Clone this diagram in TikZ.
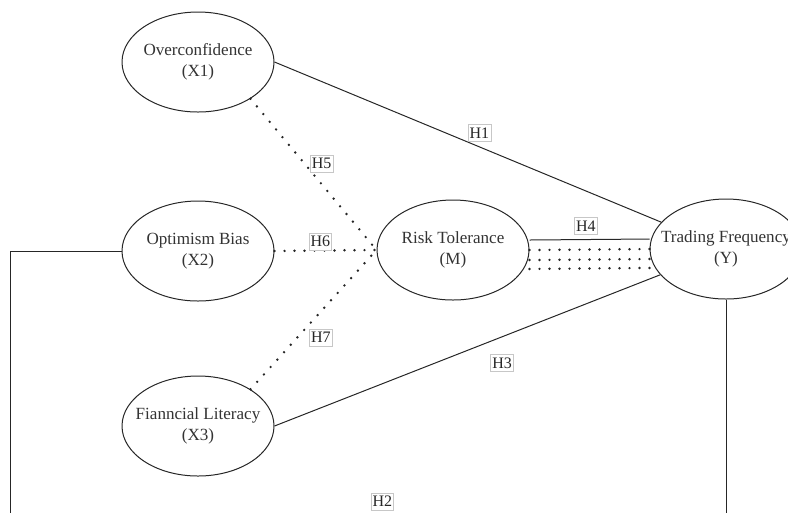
\documentclass[tikz,border=0pt]{standalone}
\usepackage{fontspec}
\setmainfont{Liberation Serif}
\usetikzlibrary{shapes.geometric}

\begin{document}
\begin{tikzpicture}[x=0.75pt, y=-0.75pt,
        var/.style = {ellipse, draw=black!85, line width=0.75pt,
                      minimum width=114pt, minimum height=75pt,
                      inner xsep=-10pt, inner ysep=0pt, align=center,
                      text=black!80, font=\fontsize{12.8}{15.5}\selectfont},
        hyp/.style = {solid, draw=black!22, fill=white, line width=0.5pt,
                      inner xsep=1.2pt, inner ysep=2.4pt, text=black!85,
                      font=\fontsize{12}{12}\selectfont},
       link/.style = {draw=black!85, line width=0.75pt},
    dotlink/.style = {draw=black!85, line width=2pt, line cap=round,
                      dash pattern=on 0pt off 7.5pt},
every edge/.style = {link}
                        ]
    % page size, the right ellipse runs off the edge
    \useasboundingbox (0,0) rectangle (788,512);
    \clip (0,0) rectangle (788,512);

    % the variables
    \node (X1) at (198, 62)  [var] {Overconfidence\\(X1)};
    \node (X2) at (198, 251) [var] {Optimism Bias\\(X2)};
    \node (X3) at (198, 426) [var] {Fianncial Literacy\\(X3)};
    \node (M)  at (453, 250) [var] {Risk Tolerance\\(M)};
    \node (Y)  at (726, 249) [var] {Trading Frequency\\(Y)};

    % direct paths
    \path (X1.east) edge node[hyp, pos=.53, above=4pt] {H1} (Y);
    \path (X3.east) edge node[hyp, pos=.59, below=13pt] {H3} (Y);

    % paths through the mediator
    \path (X1.-35) edge[dotlink] node[hyp, pos=.43, right=4pt] {H5} (M.west);
    \path (X2.east) edge[dotlink] node[hyp, pos=.45, anchor=south, yshift=0pt] {H6} (M.west);
    \path (X3.35) edge[dotlink] node[hyp, pos=.37, right=9pt] {H7} (M.west);

    \path ([yshift=7.5pt]M.east) edge node[hyp, pos=.47, above=3.5pt] {H4} ([yshift=7.5pt]Y.west);
    \foreach \d in {0,7.5,14.2}
        \path ([yshift=-\d pt]M.east) edge[dotlink] ([yshift=-\d pt]Y.west);

    % H2 goes round underneath
    \coordinate (bl) at (10, 525);
    \coordinate (br) at (Y.south |- bl);
    \draw[link] (X2.west) -| (bl) -- node[hyp, pos=.52, above=11pt] {H2} (br) -- (Y.south);

\end{tikzpicture}
\end{document}
